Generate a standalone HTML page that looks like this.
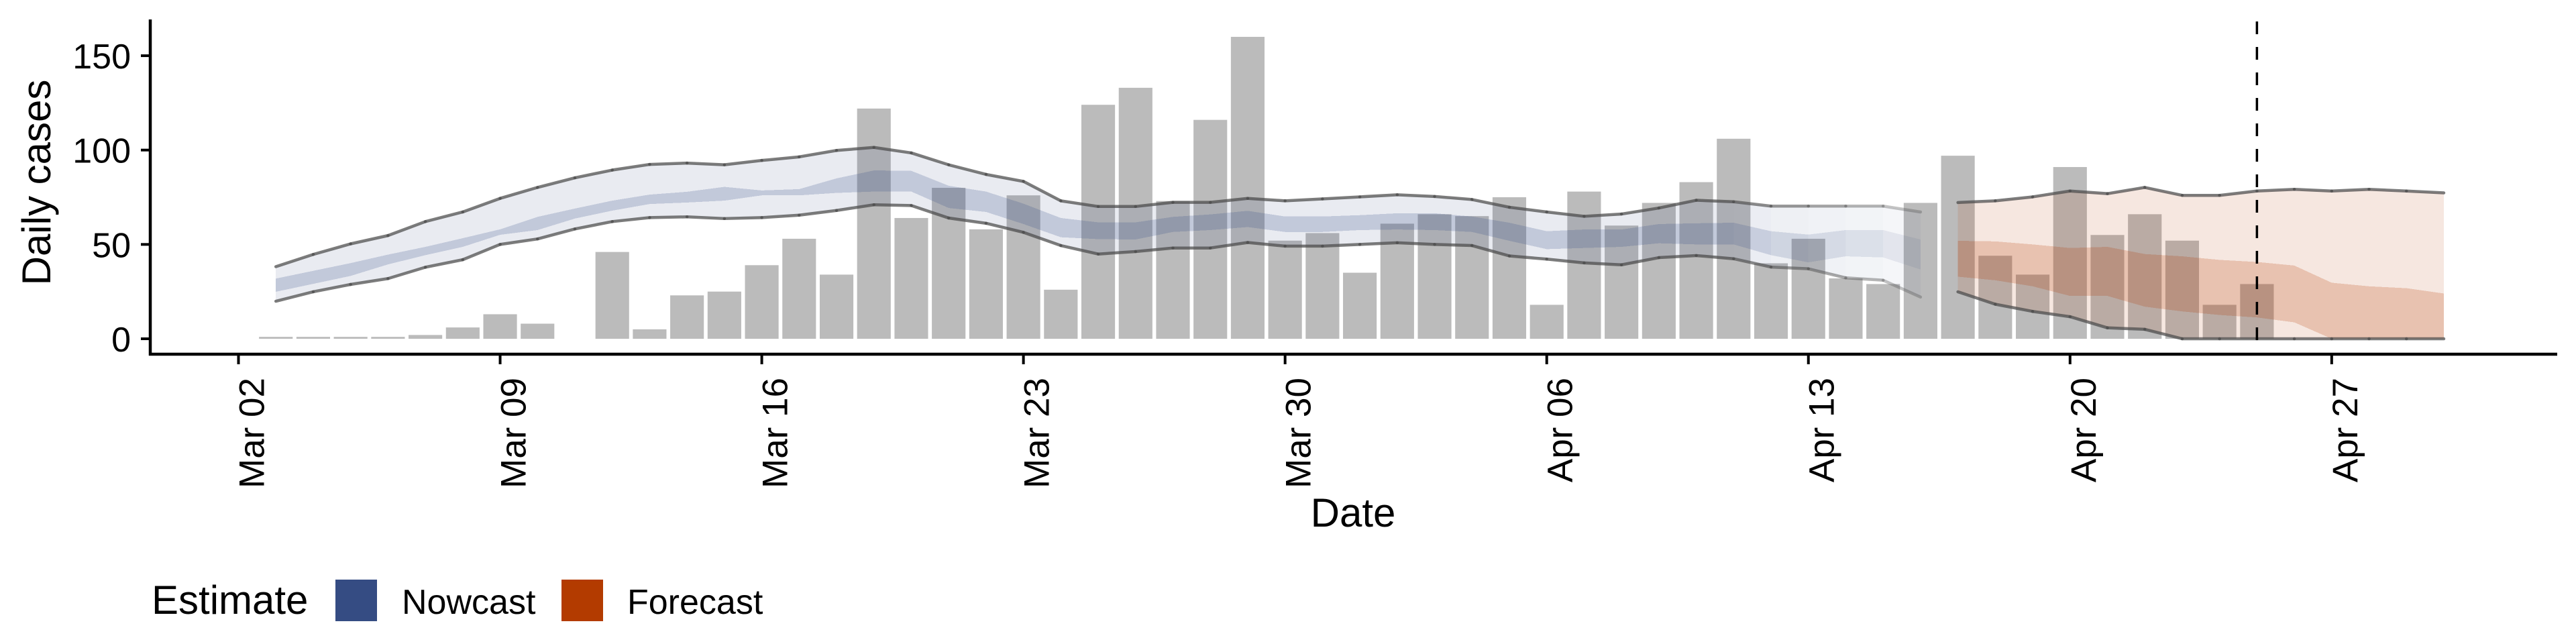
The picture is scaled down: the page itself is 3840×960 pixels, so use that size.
<!DOCTYPE html>
<html><head><meta charset="utf-8"><title>Daily cases nowcast and forecast</title>
<style>
html,body{margin:0;padding:0;background:#fff;}
svg{display:block;font-family:"Liberation Sans",Arial,sans-serif;}
</style></head>
<body>
<svg id="chart" xmlns="http://www.w3.org/2000/svg" width="3840" height="960" viewBox="0 0 3840 960">
  <rect x="0" y="0" width="3840" height="960" fill="#fff"/>
  <g id="bars"></g>
  <g id="bands"></g>
  <g id="lines"></g>
  <g id="axes"></g>
  <text transform="translate(75,272) rotate(-90)" text-anchor="middle" font-size="60">Daily cases</text>
  <text x="2017" y="785" text-anchor="middle" font-size="60">Date</text>
  <g>
    <text x="226" y="915" font-size="60">Estimate</text>
    <rect x="500" y="864" width="62" height="62" fill="#354c83"/>
    <text x="599" y="915" font-size="52">Nowcast</text>
    <rect x="837" y="864" width="62" height="62" fill="#b33b00"/>
    <text x="935" y="915" font-size="52">Forecast</text>
  </g>
</svg>
<script>
// ---- data ----
const startLabel = "Mar 02";
const barStartDay = 1; // Mar 03
const cases = [1,1,1,1,2,6,13,8,0,46,5,23,25,39,53,34,122,64,80,58,76,26,124,133,73,116,160,52,56,35,61,66,65,75,18,78,60,72,83,106,40,53,32,29,72,97,44,34,91,55,66,52,18,29];
const nowStartDay = 1; // Mar 03 .. Apr 16
const nowUpper = [38.2,44.7,50.3,54.7,62.1,67.2,74.4,80.2,85.3,89.4,92.4,93.1,92.2,94.5,96.4,99.8,101.4,98.5,92.2,87.1,83.4,73.1,70.1,70.1,72.3,72.3,74.4,73.1,74.1,75.2,76.3,75.4,73.8,69.7,67.2,64.9,66.1,69.3,73.4,72.6,70.3,70.3,70.3,70.3,67.2];
const nowLower = [19.9,24.9,28.8,31.9,37.9,41.9,50.0,52.9,58.2,62.1,64.2,64.6,63.7,64.2,65.5,68,71,70.6,64.0,61.2,56.4,49.4,44.9,46.2,48.1,48.1,51.0,49.1,49.1,50.0,50.9,50.0,49.4,43.9,42.2,40.2,39.2,43.0,44.1,42.4,38.0,37.1,32.3,31.0,22.1];
const nowQ75 = [31.9,36,40.1,44.6,48.7,53.3,58,64.6,69,73.2,76.4,77.9,80.5,78.6,79.3,85,89.2,89.0,81.1,78.0,71.6,64.0,61.7,61.7,64.6,65.9,67.8,64.8,64.8,65.5,66.5,66.5,64.8,61.5,57.0,57.9,57.9,60.8,61.2,61.5,57.0,55.2,57.6,57.6,52.6];
const nowQ25 = [24.9,29.1,33.3,39.4,44.3,48.7,55.1,57.6,63.7,67.9,71.4,72.2,73.2,76.0,76.0,77.3,78.0,78.0,69.3,67.2,60.8,53.8,52.8,52.6,56.6,57.6,59.2,56.6,56.6,57.6,57.9,57.6,56.6,51.9,47.5,48.1,48.7,50.6,50.0,50.0,44.3,40.5,43.7,43.1,36.7];
const foreStartDay = 46; // Apr 17 .. Apr 30
const foreUpper = [72.2,73.1,75.2,78.3,76.9,80.2,76.0,76.0,78.3,79.2,78.3,79.2,78.3,77.3];
const foreLower = [24.9,18.3,14.5,11.7,5.8,5.0,0,0,0,0,0,0,0,0];
const foreQ75 = [51.9,51.6,50.0,48.1,48.7,44.9,43.7,41.8,40.7,38.8,29.7,27.8,26.8,24.0];
const foreQ25 = [32.9,31.0,27.8,22.7,22.7,17.0,14.5,12.6,11.3,8.7,0,0,0,0];
const yTicks = [0,50,100,150];
const xTickLabels = ["Mar 02","Mar 09","Mar 16","Mar 23","Mar 30","Apr 06","Apr 13","Apr 20","Apr 27"];
const xTickDays = [0,7,14,21,28,35,42,49,56];
const dataDateDay = 54; // Apr 25

// ---- scales ----
const X0 = 355.5, DAY = 55.72;
const Y0 = 505, UNIT = 2.813;
function xs(d){ return X0 + d*DAY; }
function ys(v){ return Y0 - v*UNIT; }
const NS = "http://www.w3.org/2000/svg";
function mk(tag, parent){ const e=document.createElementNS(NS,tag); parent.appendChild(e); return e; }

// bars
const gBars = document.getElementById('bars');
cases.forEach((v,i)=>{
  if(v<=0) return;
  const d = barStartDay+i, w = DAY*0.9;
  const r = mk('rect', gBars);
  
  
  r.setAttribute('x', xs(d)-w/2); r.setAttribute('width', w);
  r.setAttribute('y', ys(v)); r.setAttribute('height', ys(0)-ys(v));
  r.setAttribute('fill', '#bbbbbb');
});

// bands
const gBands = document.getElementById('bands');
function fade(i, n, faded){ if(!faded) return 1; const k = n-1-i; return k>=5 ? 1 : 0.45 + 0.11*k; }
function band(start, lo, hi, color, op, name, faded){
  const n = lo.length;
  for(let i=0;i<n-1;i++){
    const a = xs(start+i), b = xs(start+i+1);
    const p = mk('polygon', gBands);
    
    
    p.setAttribute('points', `${a},${ys(hi[i])} ${b},${ys(hi[i+1])} ${b},${ys(lo[i+1])} ${a},${ys(lo[i])}`);
    p.setAttribute('fill', color);
    p.setAttribute('fill-opacity', op*fade(i+1,n,faded));
    p.setAttribute('shape-rendering', 'crispEdges');
  }
}
band(nowStartDay, nowLower, nowUpper, '#354c83', 0.11, 'nowcast-90-band', true);
band(nowStartDay, nowQ25, nowQ75, '#354c83', 0.21, 'nowcast-50-band', true);
band(foreStartDay, foreLower, foreUpper, '#b33b00', 0.12, 'forecast-90-band', false);
band(foreStartDay, foreQ25, foreQ75, '#b33b00', 0.21, 'forecast-50-band', false);

// lines
const gLines = document.getElementById('lines');
function line(start, vals, name, faded){
  const n = vals.length;
  for(let i=0;i<n-1;i++){
    const l = mk('line', gLines);
    
    
    l.setAttribute('x1', xs(start+i)); l.setAttribute('y1', ys(vals[i]));
    l.setAttribute('x2', xs(start+i+1)); l.setAttribute('y2', ys(vals[i+1]));
    l.setAttribute('stroke', '#4a4a4a');
    l.setAttribute('stroke-width', 4.5);
    l.setAttribute('stroke-linecap', 'round');
    l.setAttribute('stroke-opacity', 0.72*fade(i+1,n,faded));
  }
}
line(nowStartDay, nowUpper, 'nowcast-upper-line', true);
line(nowStartDay, nowLower, 'nowcast-lower-line', true);
line(foreStartDay, foreUpper, 'forecast-upper-line', false);
line(foreStartDay, foreLower, 'forecast-lower-line', false);

// axes
const gAx = document.getElementById('axes');
const ya = mk('line', gAx);


ya.setAttribute('x1',224); ya.setAttribute('x2',224); ya.setAttribute('y1',29); ya.setAttribute('y2',530);
ya.setAttribute('stroke','#000'); ya.setAttribute('stroke-width',4.5);
const xa = mk('line', gAx);


xa.setAttribute('x1',222); xa.setAttribute('x2',3812); xa.setAttribute('y1',528); xa.setAttribute('y2',528);
xa.setAttribute('stroke','#000'); xa.setAttribute('stroke-width',4.5);
yTicks.forEach(v=>{
  const t = mk('line', gAx);
  
  
  t.setAttribute('x1',210); t.setAttribute('x2',224); t.setAttribute('y1',ys(v)); t.setAttribute('y2',ys(v));
  t.setAttribute('stroke','#000'); t.setAttribute('stroke-width',4);
  const tx = mk('text', gAx);
  
  
  tx.setAttribute('x',195); tx.setAttribute('y',ys(v)+19);
  tx.setAttribute('text-anchor','end'); tx.setAttribute('font-size',52);
  tx.textContent = String(v);
});
xTickDays.forEach((d,i)=>{
  const t = mk('line', gAx);
  
  
  t.setAttribute('x1',xs(d)); t.setAttribute('x2',xs(d)); t.setAttribute('y1',528); t.setAttribute('y2',543);
  t.setAttribute('stroke','#000'); t.setAttribute('stroke-width',4);
  const tx = mk('text', gAx);
  
  
  tx.setAttribute('transform', `translate(${xs(d)+38},563) rotate(-90)`);
  tx.setAttribute('text-anchor','end'); tx.setAttribute('font-size',53);
  tx.textContent = xTickLabels[i];
});
const dl = mk('line', gAx);


dl.setAttribute('x1',xs(dataDateDay)); dl.setAttribute('x2',xs(dataDateDay));
dl.setAttribute('y1',32); dl.setAttribute('y2',528);
dl.setAttribute('stroke','#000'); dl.setAttribute('stroke-width',3.5);
dl.setAttribute('stroke-dasharray','19 19');
</script>
</body></html>
